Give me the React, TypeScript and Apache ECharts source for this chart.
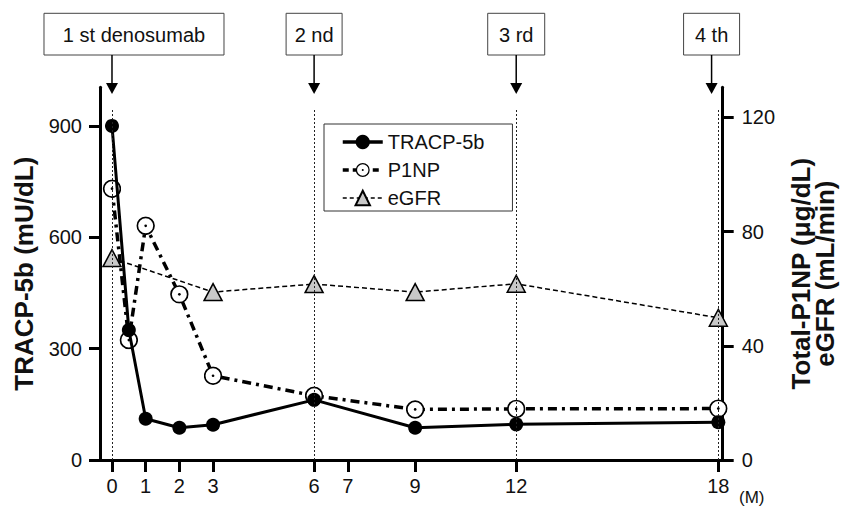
import React, { useEffect, useRef } from "react";
import * as echarts from "echarts";

const tracpMonths = [0, 0.5, 1, 2, 3, 6, 9, 12, 18];
const tracpValues = [900, 350, 111, 87, 95, 162, 87, 96, 102];
const p1npMonths = [0, 0.5, 1, 2, 3, 6, 9, 12, 18];
const p1npValues = [95, 42, 82, 58, 29.5, 22.5, 17.7, 17.9, 18];
const egfrMonths = [0, 3, 6, 9, 12, 18];
const egfrValues = [70.7, 58.8, 61.6, 58.8, 61.7, 49.8];
const xTickMonths = [0, 1, 2, 3, 6, 7, 9, 12, 18];
const leftTicks = [0, 300, 600, 900];
const rightTicks = [0, 40, 80, 120];
const injectionMonths = [0, 6, 12, 18];
const injectionLabels = ["1 st denosumab", "2 nd", "3 rd", "4 th"];
const arrowMonths = [0, 6, 12, 17.8];

const FONT = '"Liberation Sans", Arial, Helvetica, sans-serif';

const p1npSvg =
  "<svg xmlns='http://www.w3.org/2000/svg' width='40' height='40' viewBox='0 0 40 40'>" +
  "<circle cx='20' cy='20' r='17.6' fill='white' stroke='black' stroke-width='3.6'/>" +
  "<circle cx='20' cy='20' r='2.8' fill='black'/></svg>";
const p1npSymbol = "image://data:image/svg+xml;charset=utf-8," + encodeURIComponent(p1npSvg);

export default function App() {
  const ref = useRef<HTMLDivElement>(null);
  useEffect(() => {
    if (!ref.current) return;
    const chart = echarts.init(ref.current, null, { renderer: "svg" });
    const axisText = { color: "#111", fontSize: 20, fontFamily: FONT };
    const option: any = {
      animation: false,
      backgroundColor: "#fff",
      grid: { left: 100, right: 126.3, top: 87.3, bottom: 48 },
      legend: {
        orient: "vertical",
        left: 324,
        top: 124,
        padding: [8, 28, 3, 17],
        itemGap: 8,
        itemWidth: 40,
        itemHeight: 18,
        borderColor: "#333",
        borderWidth: 1,
        backgroundColor: "#fff",
        textStyle: { color: "#111", fontSize: 20, fontFamily: FONT },
        data: [
          { name: "TRACP-5b", lineStyle: { color: "#000", width: 3.5, type: "solid" } },
          { name: "P1NP", lineStyle: { color: "#000", width: 3.5, type: [6, 4] } },
          { name: "eGFR", lineStyle: { color: "#000", width: 1.5, type: [4, 3] } },
        ],
      },
      xAxis: {
        type: "value",
        min: -0.356,
        max: 18.13,
        splitLine: { show: false },
        axisLine: { onZero: false, lineStyle: { color: "#000", width: 3 } },
        axisTick: { customValues: xTickMonths, length: 12, lineStyle: { color: "#000", width: 3 } },
        axisLabel: { customValues: xTickMonths, margin: 16, ...axisText },
      },
      yAxis: [
        {
          type: "value",
          position: "left",
          min: 0,
          max: 1004,
          splitLine: { show: false },
          axisLine: { show: true, onZero: false, lineStyle: { color: "#000", width: 3 } },
          axisTick: { show: true, customValues: leftTicks, length: 11, lineStyle: { color: "#000", width: 3 } },
          axisLabel: { customValues: leftTicks, margin: 18, ...axisText },
          name: "TRACP-5b (mU/dL)",
          nameLocation: "middle",
          nameGap: 63,
          nameTextStyle: { color: "#111", fontSize: 26, fontWeight: "bold", fontFamily: FONT },
        },
        {
          type: "value",
          position: "right",
          min: 0,
          max: 130.5,
          splitLine: { show: false },
          axisLine: { show: true, onZero: false, lineStyle: { color: "#000", width: 3 } },
          axisTick: { show: true, customValues: rightTicks, length: 11, lineStyle: { color: "#000", width: 3 } },
          axisLabel: { customValues: rightTicks, margin: 19, ...axisText },
          name: "Total-P1NP (μg/dL)\neGFR (mL/min)",
          nameLocation: "middle",
          nameGap: 66,
          nameTextStyle: {
            color: "#111",
            fontSize: 26,
            lineHeight: 24,
            fontWeight: "bold",
            fontFamily: FONT,
            align: "center",
          },
        },
      ],
      series: [
        {
          name: "eGFR",
          type: "line",
          yAxisIndex: 1,
          z: 2,
          data: egfrMonths.map((m, i) => [m, egfrValues[i]]),
          symbol: "triangle",
          symbolSize: [18, 17],
          lineStyle: { color: "#000", width: 1.5, type: [5, 3] },
          itemStyle: { color: "#c8c8c8", borderColor: "#000", borderWidth: 1.5 },
        },
        {
          name: "P1NP",
          type: "line",
          yAxisIndex: 1,
          z: 3,
          data: p1npMonths.map((m, i) => [m, p1npValues[i]]),
          symbol: p1npSymbol,
          symbolSize: 19,
          lineStyle: { color: "#000", width: 3.5, type: [9, 5, 3, 5] },
          itemStyle: { color: "#000" },
        },
        {
          name: "TRACP-5b",
          type: "line",
          yAxisIndex: 0,
          z: 4,
          data: tracpMonths.map((m, i) => [m, tracpValues[i]]),
          symbol: "circle",
          symbolSize: 14,
          lineStyle: { color: "#000", width: 3 },
          itemStyle: { color: "#000" },
          markLine: {
            silent: true,
            symbol: "none",
            label: { show: false },
            lineStyle: { color: "#222", width: 1, type: [2, 2] },
            data: injectionMonths.map((m) => [{ coord: [m, 0] }, { coord: [m, 948] }]),
          },
        },
      ],
    };
    chart.setOption(option);

    const boxW = [180, 56, 57, 56];
    const elements: any[] = [];
    arrowMonths.forEach((m, i) => {
      const x = chart.convertToPixel({ xAxisIndex: 0 }, m) as number;
      const cx = x + (i === 0 ? 22 : 0);
      elements.push({
        type: "rect",
        shape: { x: cx - boxW[i] / 2, y: 13.3, width: boxW[i], height: 41.7 },
        style: { fill: "#fff", stroke: "#444", lineWidth: 1 },
      });
      elements.push({
        type: "text",
        x: cx,
        y: 34.5,
        style: {
          text: injectionLabels[i],
          fill: "#111",
          fontSize: 20,
          fontFamily: FONT,
          textAlign: "center",
          textVerticalAlign: "middle",
        },
      });
      elements.push({
        type: "line",
        shape: { x1: x, y1: 55, x2: x, y2: 85 },
        style: { stroke: "#000", lineWidth: 1.5 },
      });
      elements.push({
        type: "polygon",
        shape: { points: [[x - 6, 83], [x + 6, 83], [x, 94]] },
        style: { fill: "#000" },
      });
    });
    elements.push({
      type: "text",
      x: 739,
      y: 497,
      style: {
        text: "(M)",
        fill: "#111",
        fontSize: 17,
        fontFamily: FONT,
        textAlign: "left",
        textVerticalAlign: "middle",
      },
    });
    chart.setOption({ graphic: { elements } });

    return () => chart.dispose();
  }, []);
  return (
    <div
      ref={ref}
      style={{ position: "fixed", left: 0, top: 0, width: 849, height: 508 }}
    />
  );
}
